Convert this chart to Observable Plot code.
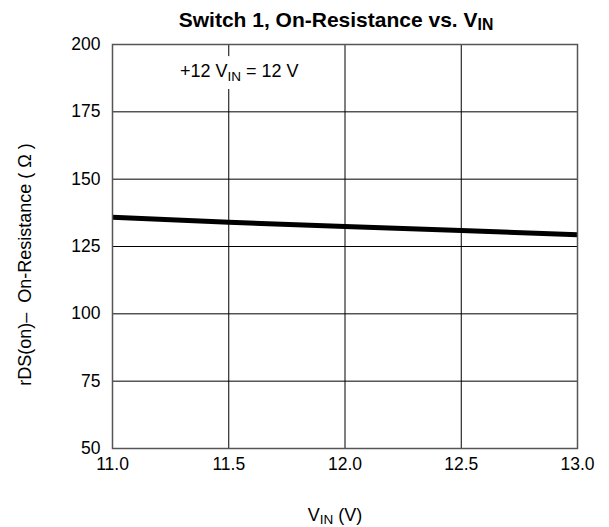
<!DOCTYPE html>
<html>
<head>
<meta charset="utf-8">
<script src="https://cdn.jsdelivr.net/npm/d3@7"></script>
<script src="https://cdn.jsdelivr.net/npm/@observablehq/plot@0.6"></script>
<style>
  body { margin: 0; background: #fff; font-family: "Liberation Sans", Arial, sans-serif; color: #000; }
  #title { height: 32px; box-sizing: border-box; padding-top: 9px; padding-left: 63px; text-align: center; font-weight: bold; font-size: 21px; line-height: 21px; white-space: nowrap; }
  #xlabel { height: 51px; box-sizing: border-box; padding-top: 30px; padding-left: 61px; text-align: center; font-size: 18px; line-height: 18px; white-space: nowrap; }
  sub { font-size: 0.75em; vertical-align: -3px; line-height: 0; }
  #chart svg { display: block; }
</style>
</head>
<body>
<div id="title">Switch 1, On-Resistance vs. V<sub>IN</sub></div>
<div id="chart"></div>
<div id="xlabel">V<sub>IN</sub> (V)</div>
<script>
// Data
const vin = [11.0, 11.5, 12.0, 12.5, 13.0];
const ron = [135.9, 134.0, 132.4, 130.9, 129.4];
const xTicks = [11.0, 11.5, 12.0, 12.5, 13.0];
const yTicks = [50, 75, 100, 125, 150, 175, 200];
const yLabel = "rDS(on)\u2013\u00a0\u00a0On-Resistance ( \u03a9 )";
const annotParts = ["+12 V", "IN", " = 12 V"];
const annotX = [11.29];
const annotY = [190];

const rows = vin.map((v, i) => ({x: v, y: ron[i]}));
const annotText = annotParts.join("");

const chart = Plot.plot({
  width: 609,
  height: 444,
  marginTop: 12,
  marginRight: 32,
  marginBottom: 28,
  marginLeft: 112,
  style: {fontFamily: '"Liberation Sans", Arial, sans-serif', fontSize: "17.5px", color: "#000", background: "#fff"},
  x: {domain: [11, 13], ticks: xTicks, tickFormat: d => d.toFixed(1), tickSize: 0, tickPadding: 9, label: null},
  y: {domain: [50, 200], ticks: yTicks, tickSize: 0, tickPadding: 12, label: null},
  marks: [
    Plot.ruleX(xTicks, {stroke: "#000", strokeWidth: 1}),
    Plot.ruleY(yTicks, {stroke: "#000", strokeWidth: 1}),
    Plot.text([annotText], {x: annotX, y: annotY, text: d => d, textAnchor: "start", fill: "#fff", stroke: "#fff", strokeWidth: 16, fontSize: 18}),
    Plot.text([annotText], {x: annotX, y: annotY, text: d => d, textAnchor: "start", fill: "#000", fontSize: 18}),
    Plot.line(rows, {x: "x", y: "y", stroke: "#000", strokeWidth: 5, strokeLinecap: "butt"}),
    Plot.frame({stroke: "#555", strokeWidth: 1.5}),
    Plot.text([yLabel], {frameAnchor: "left", text: d => d, textAnchor: "middle", rotate: -90, dx: -87, dy: 18, fill: "#000", fontSize: 18})
  ]
});
document.getElementById("chart").appendChild(chart);

// Subscript in annotation
d3.select(chart).selectAll("text").each(function() {
  if (this.textContent === annotText) {
    const t = d3.select(this);
    t.text(null);
    t.append("tspan").text(annotParts[0]);
    t.append("tspan").attr("dy", "4px").attr("font-size", "13.5px").text(annotParts[1]);
    t.append("tspan").attr("dy", "-4px").text(annotParts[2]);
  }
});
</script>
</body>
</html>
